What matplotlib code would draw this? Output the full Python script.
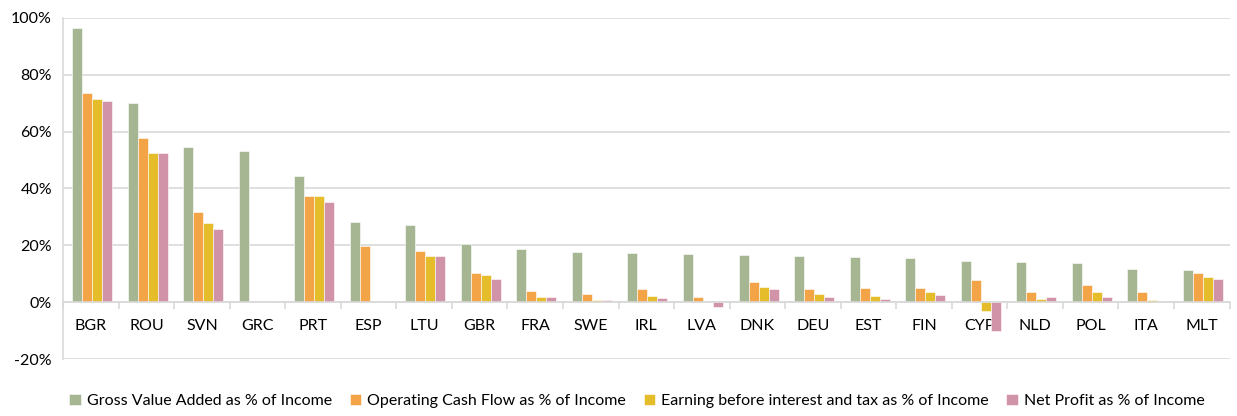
import numpy as np
import matplotlib
matplotlib.use("Agg")
import matplotlib.pyplot as plt
from matplotlib.ticker import FuncFormatter, MultipleLocator

countries = ["BGR", "ROU", "SVN", "GRC", "PRT", "ESP", "LTU", "GBR", "FRA", "SWE", "IRL",
             "LVA", "DNK", "DEU", "EST", "FIN", "CYP", "NLD", "POL", "ITA", "MLT"]

gva = [96.5, 70.0, 54.5, 53.0, 44.4, 28.3, 27.1, 20.6, 18.8, 17.7, 17.3,
       16.9, 16.5, 16.3, 15.9, 15.6, 14.6, 14.1, 13.6, 11.6, 11.3]
ocf = [73.5, 57.7, 31.8, 0.0, 37.3, 19.6, 18.1, 10.4, 3.9, 2.9, 4.7,
       1.8, 7.2, 4.6, 5.0, 5.0, 7.7, 3.6, 5.9, 3.4, 10.1]
ebit = [71.3, 52.5, 27.7, 0.0, 37.3, 0.0, 16.1, 9.4, 1.8, 0.9, 2.0,
        0.0, 5.4, 2.7, 2.1, 3.4, -3.0, 1.2, 3.7, 0.7, 8.7]
net = [70.6, 52.5, 25.9, 0.0, 35.2, 0.0, 16.1, 8.2, 1.9, 0.6, 1.3,
       -1.6, 4.6, 1.9, 1.2, 2.6, -10.3, 1.8, 1.9, 0.0, 8.1]

series_names = ["Gross Value Added as % of Income",
                "Operating Cash Flow as % of Income",
                "Earning before interest and tax as % of Income",
                "Net Profit as % of Income"]
colors = ["#A6B592", "#F2A447", "#E5BC2A", "#D093A8"]

plt.rcParams["font.family"] = ["Lato", "DejaVu Sans"]

fig = plt.figure(figsize=(12.37, 4.16), dpi=100)
ax = fig.add_axes([0.051, 0.137, 0.943, 0.82])

x = np.arange(len(countries))
w = 0.18
for i, vals in enumerate([gva, ocf, ebit, net]):
    ax.bar(x + (i - 1.5) * w + 0.02, vals, width=w, color=colors[i],
           edgecolor="#FFFFFF", linewidth=0.4, label=series_names[i], zorder=3)

ax.set_xlim(-0.5, len(countries) - 0.5)
ax.set_ylim(-20, 100)
ax.yaxis.set_major_locator(MultipleLocator(20))
ax.yaxis.set_major_formatter(FuncFormatter(lambda v, p: f"{v:.0f}%"))
ax.grid(axis="y", color="#D9D9D9", linewidth=1.2, zorder=0)
ax.set_axisbelow(True)

for s in ["top", "right"]:
    ax.spines[s].set_visible(False)
ax.spines["left"].set_color("#D9D9D9")
ax.spines["left"].set_linewidth(1.2)
ax.spines["bottom"].set_position(("data", 0))
ax.spines["bottom"].set_color("#D9D9D9")
ax.spines["bottom"].set_linewidth(1.2)
ax.spines["bottom"].set_zorder(4)

ax.set_xticks(x)
ax.set_xticklabels(countries)
ax.set_xticks(np.arange(len(countries) + 1) - 0.5, minor=True)
ax.tick_params(axis="x", which="major", length=0, pad=12, labelsize=11.5, colors="#000000")
ax.tick_params(axis="x", which="minor", length=5, width=1.2, color="#D9D9D9", direction="out")
ax.tick_params(axis="y", length=0, pad=8, labelsize=11.5)

fig.legend(loc="lower center", bbox_to_anchor=(0.515, -0.015), ncol=4, frameon=False,
           fontsize=11.5, handlelength=0.7, handleheight=0.7, handletextpad=0.4,
           columnspacing=1.1)

fig.savefig("out.png", dpi=100)
